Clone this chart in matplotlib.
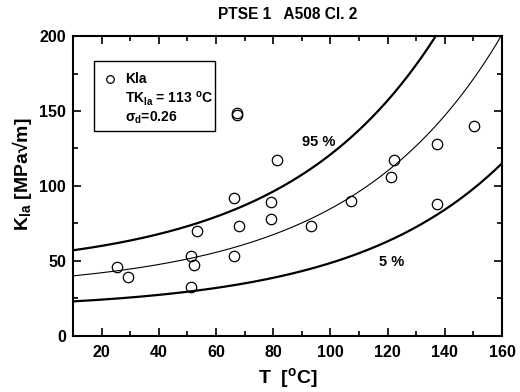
import numpy as np
import matplotlib.pyplot as plt

plt.rcParams['font.family'] = ['Liberation Sans', 'DejaVu Sans']
plt.rcParams['mathtext.fontset'] = 'custom'
plt.rcParams['mathtext.rm'] = 'Liberation Sans:bold'
plt.rcParams['mathtext.it'] = 'Liberation Sans:bold'
plt.rcParams['mathtext.bf'] = 'Liberation Sans:bold'

# datos medidos (T en C, KIa en MPa sqrt(m))
temp = [25.3, 29.3, 51.3, 52.3, 51.3, 53.2, 66.4, 66.4, 68.1, 67.2, 67.2,
        81.4, 79.2, 79.2, 93.2, 107.1, 121.2, 122.2, 137.4, 137.4, 150.3]
kia = [45.8, 38.9, 52.9, 46.9, 32.6, 70.0, 91.9, 52.9, 73.0, 148.8, 147.3,
       117.0, 89.0, 77.8, 73.0, 89.9, 105.9, 117.0, 127.9, 87.9, 139.7]

# parametros de la curva maestra
tk_ia = 113
sigma_d = 0.26
z95 = 1.645

t = np.linspace(10, 160, 300)
k_med = 30 + 70 * np.exp(0.019 * (t - tk_ia))
k_95 = k_med * (1 + z95 * sigma_d)
k_05 = k_med * (1 - z95 * sigma_d)

fig = plt.figure(figsize=(5.2, 3.92), dpi=100)
ax = fig.add_axes([0.1404, 0.1439, 0.825, 0.7641])

ax.plot(t, k_95, color='k', lw=1.6)
ax.plot(t, k_med, color='k', lw=0.8)
ax.plot(t, k_05, color='k', lw=1.6)
ax.plot(temp, kia, 'o', ms=7.5, mfc='none', mec='k', mew=0.9)

ax.text(95.8, 129, '95 %', fontsize=10.5, fontweight='bold', ha='center', va='center')
ax.text(121.4, 49.3, '5 %', fontsize=10.5, fontweight='bold', ha='center', va='center')

# cuadro de leyenda
ax.add_patch(plt.Rectangle((17.3, 136.6), 42.3, 46.7, fill=False, ec='k', lw=1.0))
ax.plot([23.0], [171.6], 'o', ms=5.5, mfc='none', mec='k', mew=0.9)
ax.text(28.2, 171.6, 'Kla', fontsize=10, fontweight='bold', va='center')
ax.text(28.2, 158.4, r'TK$_{\mathrm{la}}$ = 113 $^{\mathrm{o}}$C', fontsize=10,
        fontweight='bold', va='center')
ax.text(28.2, 145.6, r'$\mathbf{\sigma}_{\mathrm{d}}$=0.26', fontsize=10,
        fontweight='bold', va='center')

ax.set_xlim(10, 160)
ax.set_ylim(0, 200)
ax.set_xticks([20, 40, 60, 80, 100, 120, 140, 160])
ax.set_xticks(range(10, 161, 10), minor=True)
ax.set_yticks([0, 50, 100, 150, 200])
ax.set_yticks([25, 75, 125, 175], minor=True)
ax.tick_params(which='both', direction='in', top=True, right=True, width=1.2)
ax.tick_params(which='major', length=6, labelsize=11.5)
ax.tick_params(axis='x', which='major', pad=7)
ax.tick_params(axis='y', which='major', pad=5)
ax.tick_params(which='minor', length=3.5)
for lab in ax.get_xticklabels() + ax.get_yticklabels():
    lab.set_fontweight('bold')
for s in ax.spines.values():
    s.set_linewidth(1.5)

ax.set_xlabel(r'T  [$^{\mathrm{o}}$C]', fontsize=14, fontweight='bold', labelpad=4)
ax.set_ylabel(r'K$_{\mathrm{la}}$ [MPa√m]', fontsize=14, fontweight='bold')
ax.yaxis.set_label_coords(-0.09, 0.54)
ax.set_title('PTSE 1   A508 Cl. 2', fontsize=11.2, fontweight='bold', pad=12)

fig.savefig('out.png', dpi=100)
